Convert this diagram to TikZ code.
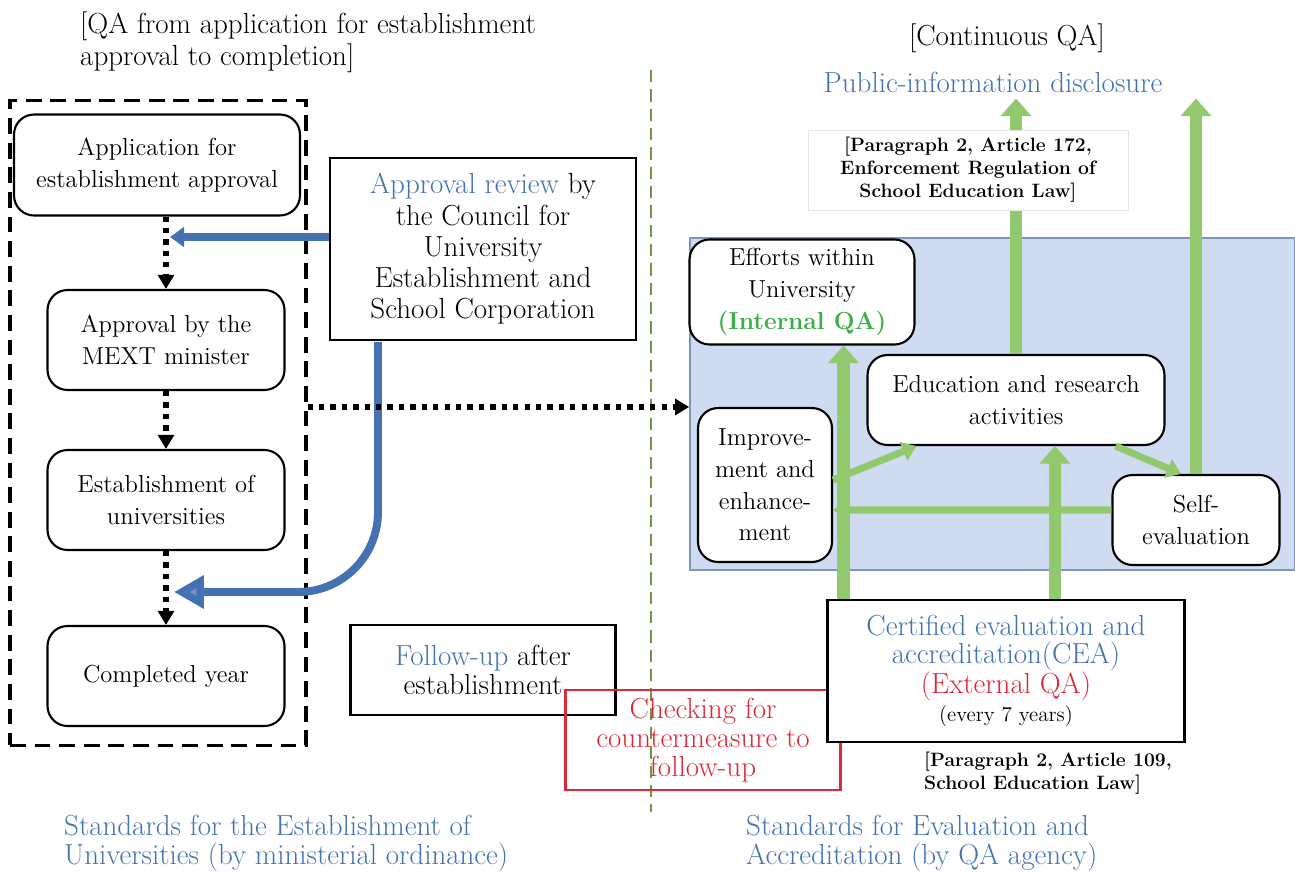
\documentclass[tikz,border=0pt]{standalone}
\usetikzlibrary{arrows.meta,calc}

\definecolor{qablue}{RGB}{68,114,176}
\definecolor{qabg}{RGB}{207,219,240}
\definecolor{qaedge}{RGB}{125,150,190}
\definecolor{qagreen}{RGB}{146,200,110}
\definecolor{qaline}{RGB}{110,150,70}
\definecolor{qared}{RGB}{220,40,55}
\definecolor{qatext}{RGB}{60,175,70}

\begin{document}
\begin{tikzpicture}[x=0.02cm,y=-0.02cm,font=\fontsize{14}{18}\selectfont]
		\tikzset{box/.style = {shape=rectangle, draw, line width=1.2pt, align=center, inner sep=2pt}}
		\tikzset{rbox/.style = {box, rounded corners=0.4cm}}
		\tikzset{big/.style = {font=\fontsize{16.5}{17.8}\selectfont}}
		\tikzset{dotarrow/.style = {line width=3pt, dash pattern=on 3pt off 3.5pt, -{Triangle[width=9pt,length=8pt]}}}
		\tikzset{bigup/.style = {draw=qagreen, line width=7pt, -{Triangle[width=17pt,length=10pt]}}}
		\tikzset{smallup/.style = {draw=qagreen, line width=4pt, -{Triangle[width=11pt,length=8pt]}}}

		\useasboundingbox (0,0) rectangle (1295,875);

		\draw[qaline, line width=1.6pt, dash pattern=on 7pt off 4pt] (651,70) -- (651,812);

		\node[anchor=north west, align=left, font=\fontsize{16.5}{18.2}\selectfont] (T_1) at (74,6) {[QA from application for establishment\\approval to completion]};
		\node[big] (T_2) at (1007,38) {[Continuous QA]};
		\node[big, text=qablue] (Pub) at (993,82) {Public-information disclosure};

		\node[draw=qaedge, fill=qabg, line width=1pt, minimum width=12.1cm, minimum height=6.64cm] (Bg) at (992.5,404) {};
		\node[draw, dashed, line width=1.8pt, dash pattern=on 9pt off 5pt, minimum width=5.92cm, minimum height=12.9cm] (QA_box) at (158,423) {};

		\node[rbox, fill=white, minimum width=5.72cm, minimum height=2.02cm] (App) at (157,165) {Application for\\establishment approval};
		\node[rbox, minimum width=4.74cm, minimum height=2cm] (MEXT) at (166,340) {Approval by the\\MEXT minister};
		\node[rbox, minimum width=4.74cm, minimum height=2cm] (Estab) at (166,500) {Establishment of\\universities};
		\node[rbox, minimum width=4.74cm, minimum height=2cm] (Done) at (166,676) {Completed year};

		\node[box, big, minimum width=6.12cm, minimum height=3.64cm] (Review) at (483,249) {\textcolor{qablue}{Approval review} by\\the Council for\\University\\Establishment and\\School Corporation};
		\node[box, big, font=\fontsize{16.5}{16.5}\selectfont, minimum width=5.3cm, minimum height=1.8cm] (Follow) at (483,670) {\textcolor{qablue}{Follow-up} after\\establishment};
		\node[box, draw=qared, text=qared, minimum width=5.5cm, minimum height=2cm, font=\fontsize{16.5}{16.5}\selectfont] (Check) at (703,740) {Checking for\\countermeasure to\\follow-up};

		\draw[dotarrow] (MEXT.north |- App.south) -- (MEXT.north);
		\draw[dotarrow] (MEXT.south) -- (Estab.north);
		\draw[dotarrow] (Estab.south) -- (Done.north);

		\coordinate (R_in) at (170,237);
		\coordinate (R_out) at (378,342);
		\coordinate (C_in) at (174,592);
		\draw[qablue, line width=4.5pt, -{Triangle[width=11pt,length=8pt]}] (Review.west |- R_in) -- (R_in);
		\draw[qablue, line width=4.5pt, rounded corners=1.6cm, -{Triangle[width=18pt,length=17pt,fill=qablue!75!white]}] (R_out) |- (C_in);

		\node[rbox, fill=white, minimum width=4.5cm, minimum height=2.1cm] (Efforts) at (802,292) {Efforts within\\University\\\textcolor{qatext}{\textbf{(Internal QA)}}};
		\node[rbox, fill=white, minimum width=5.94cm, minimum height=1.8cm] (Educ) at (1016,400) {Education and research\\activities};
		\node[rbox, fill=white, minimum width=2.68cm, minimum height=3.08cm] (Improve) at (765,485) {Improve-\\ment and\\enhance-\\ment};
		\node[rbox, fill=white, minimum width=3.34cm, minimum height=1.8cm] (Self) at (1196,520) {Self-\\evaluation};
		\node[box, fill=white, font=\fontsize{16.5}{15.8}\selectfont, minimum width=7.14cm, minimum height=2.84cm] (CEA) at (1006,671) {\textcolor{qablue}{Certified evaluation and}\\\textcolor{qablue}{accreditation(CEA)}\\\textcolor{qared}{(External QA)}\\{\fontsize{12}{14}\selectfont (every 7 years)}};

		\draw[dotarrow] (QA_box.east |- Improve.north) -- (Bg.west |- Improve.north);

		\draw[bigup] (Educ.north) -- (Educ.north |- Pub.south);
		\draw[bigup] (Self.north) -- (Self.north |- Pub.south);
		\draw[bigup] ([xshift=0.34cm]CEA.north west) -- ([xshift=0.34cm]CEA.north west |- Efforts.south);
		\draw[bigup] ([xshift=0.78cm]Educ.south |- CEA.north) -- ([xshift=0.78cm]Educ.south);
		\draw[smallup] ([yshift=0.1cm]Improve.east) -- ([xshift=1cm]Educ.south west);
		\draw[smallup] ([xshift=-1cm]Educ.south east) -- ([xshift=-0.3cm]Self.north);
		\draw[smallup] ([yshift=0.2cm]Self.west) -- ([yshift=-0.5cm]Improve.east);

		\node[draw=black!10, fill=white, minimum width=6.4cm, minimum height=1.6cm, align=center, font=\fontsize{11}{13}\selectfont\bfseries] (Law_1) at (968,170) {[Paragraph 2, Article 172,\\Enforcement Regulation of\\School Education Law]};
		\node[align=left, font=\fontsize{11}{13}\selectfont\bfseries] (Law_2) at (1048,773) {[Paragraph 2, Article 109,\\School Education Law]};

		\node[anchor=west, align=left, text=qablue, font=\fontsize{16.5}{16.5}\selectfont] (S_1) at (58,843) {Standards for the Establishment of\\Universities (by ministerial ordinance)};
		\node[anchor=west, align=left, text=qablue, font=\fontsize{16.5}{16.5}\selectfont] (S_2) at (740,843) {Standards for Evaluation and\\Accreditation (by QA agency)};

\end{tikzpicture}
\end{document}
